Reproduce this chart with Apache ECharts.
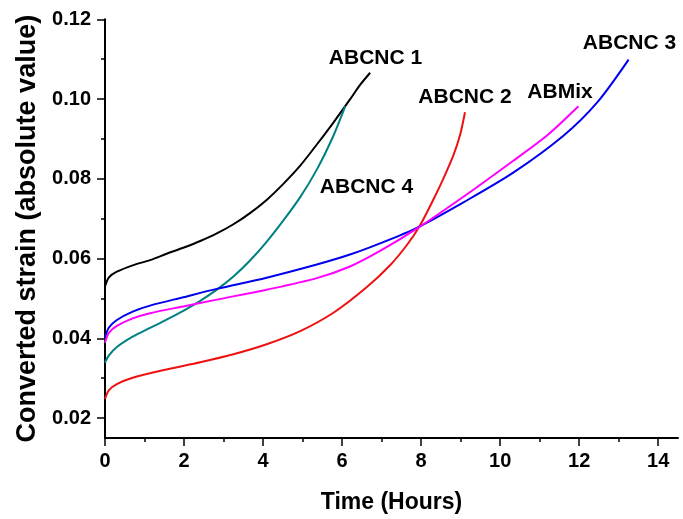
<!DOCTYPE html>
<html>
<head>
<meta charset="utf-8">
<style>
  html, body { margin: 0; padding: 0; background: #fff; }
  #chart { width: 683px; height: 519px; }
</style>
<script src="https://cdn.jsdelivr.net/npm/echarts@6/dist/echarts.min.js"></script>
</head>
<body>
<div id="chart"></div>
<script>
// ---- Data (time in hours, converted strain) ----
const abcnc1 = [[0,0.0530],[0.1,0.0553],[0.3,0.0567],[0.7,0.0583],[1.14,0.0596],[1.56,0.0612],[1.98,0.0627],[2.41,0.0644],[2.83,0.0663],[3.25,0.0686],[3.67,0.0714],[4.09,0.0747],[4.5,0.0786],[4.94,0.0833],[5.36,0.0886],[5.78,0.0941],[6.2,0.0999],[6.46,0.1036],[6.71,0.1066]];
const abcnc4 = [[0,0.0339],[0.1,0.0357],[0.3,0.0378],[0.7,0.0404],[1.14,0.0426],[1.56,0.0447],[1.98,0.0469],[2.41,0.0494],[2.83,0.0522],[3.25,0.0555],[3.67,0.0595],[4.09,0.0642],[4.51,0.0695],[4.94,0.0754],[5.36,0.0823],[5.78,0.0908],[6.08,0.0982]];
const abcnc2 = [[0,0.0248],[0.1,0.0270],[0.3,0.0285],[0.7,0.0301],[1.56,0.0322],[2.41,0.0340],[3.25,0.0360],[4.09,0.0385],[4.94,0.0418],[5.78,0.0464],[6.62,0.0528],[7.22,0.0584],[7.64,0.0634],[7.97,0.0683],[8.31,0.0748],[8.56,0.0800],[8.82,0.0860],[8.99,0.0912],[9.11,0.0967]];
const abcnc3 = [[0,0.0401],[0.1,0.0427],[0.3,0.0446],[0.7,0.0467],[1.14,0.0482],[1.98,0.0503],[2.83,0.0524],[4.09,0.0552],[5.36,0.0585],[6.2,0.0610],[6.96,0.0638],[7.89,0.0677],[9.07,0.0741],[10.34,0.0816],[11.6,0.0908],[12.45,0.0991],[13.25,0.1099]];
const abmix = [[0,0.0389],[0.1,0.0414],[0.3,0.0431],[0.7,0.0450],[1.14,0.0463],[1.98,0.0480],[2.83,0.0497],[4.09,0.0522],[5.36,0.0551],[6.2,0.0580],[6.96,0.0619],[7.89,0.0675],[9.07,0.0755],[10.34,0.0846],[11.2,0.0910],[11.98,0.0982]];

const seriesNames = ['ABCNC 1','ABCNC 4','ABCNC 2','ABCNC 3','ABMix'];
const xMajorTicks = [0,2,4,6,8,10,12,14];
const xMinorTicks = [1,3,5,7,9,11,13];
const yMajorTicks = [0.02,0.04,0.06,0.08,0.10,0.12];
const yMinorTicks = [0.03,0.05,0.07,0.09,0.11];

const FONT = '"Liberation Sans", Arial, sans-serif';
const chart = echarts.init(document.getElementById('chart'), null, {renderer: 'canvas'});

function mkSeries(name, data, color) {
  return {
    name: name, type: 'line', data: data, xAxisIndex: 0, yAxisIndex: 0,
    showSymbol: false, symbol: 'none', smooth: 0.3,
    lineStyle: {color: color, width: 2}, itemStyle: {color: color},
    animation: false, z: 3
  };
}

const labelStyle = (text, x, y) => ({
  type: 'text', x: x, y: y, z: 10,
  style: {text: text, fill: '#000', font: 'bold 21px ' + FONT,
          align: 'center', verticalAlign: 'middle',
          textAlign: 'center', textVerticalAlign: 'middle'}
});

const option = {
  backgroundColor: '#fff',
  animation: false,
  grid: {left: 105, right: 5, top: 19.3, bottom: 78, containLabel: false},
  xAxis: [{
    type: 'value', min: 0, max: 14.5, position: 'bottom',
    name: 'Time (Hours)', nameLocation: 'middle', nameGap: 53,
    nameTextStyle: {fontFamily: FONT, fontWeight: 'bold', fontSize: 23, color: '#000'},
    axisLine: {show: true, onZero: false, lineStyle: {color: '#000', width: 2}},
    axisTick: {show: true, inside: false, length: 8, customValues: xMajorTicks, lineStyle: {color: '#000', width: 1.5}},
    axisLabel: {show: true, margin: 13, customValues: xMajorTicks, fontFamily: FONT, fontWeight: 'bold', fontSize: 20, color: '#000'},
    splitLine: {show: false}
  }, {
    type: 'value', min: 0, max: 14.5, position: 'bottom', gridIndex: 0,
    axisLine: {show: false},
    axisTick: {show: true, inside: false, length: 4, customValues: xMinorTicks, lineStyle: {color: '#000', width: 1.5}},
    axisLabel: {show: false},
    splitLine: {show: false}
  }],
  yAxis: [{
    type: 'value', min: 0.015, max: 0.12, position: 'left',
    name: 'Converted strain (absolute value)', nameLocation: 'middle', nameGap: 64,
    nameTextStyle: {fontFamily: FONT, fontWeight: 'bold', fontSize: 27, color: '#000'},
    axisLine: {show: true, onZero: false, lineStyle: {color: '#000', width: 2}},
    axisTick: {show: true, inside: false, length: 8, customValues: yMajorTicks, lineStyle: {color: '#000', width: 1.5}},
    axisLabel: {show: true, margin: 14, customValues: yMajorTicks, fontFamily: FONT, fontWeight: 'bold', fontSize: 20, color: '#000',
                formatter: v => v.toFixed(2)},
    splitLine: {show: false}
  }, {
    type: 'value', min: 0.015, max: 0.12, position: 'left', gridIndex: 0, offset: 0,
    axisLine: {show: false},
    axisTick: {show: true, inside: false, length: 4, customValues: yMinorTicks, lineStyle: {color: '#000', width: 1.5}},
    axisLabel: {show: false},
    splitLine: {show: false}
  }],
  series: [
    mkSeries(seriesNames[0], abcnc1, '#000000'),
    mkSeries(seriesNames[1], abcnc4, '#008080'),
    mkSeries(seriesNames[2], abcnc2, '#ee1111'),
    mkSeries(seriesNames[3], abcnc3, '#0000ee'),
    mkSeries(seriesNames[4], abmix, '#ff00ff')
  ],
  graphic: [
    labelStyle(seriesNames[0], 375.5, 58),
    labelStyle(seriesNames[1], 366.5, 187),
    labelStyle(seriesNames[2], 465, 97),
    labelStyle(seriesNames[4], 560, 92),
    labelStyle(seriesNames[3], 629.5, 43)
  ]
};
chart.setOption(option);
</script>
</body>
</html>
